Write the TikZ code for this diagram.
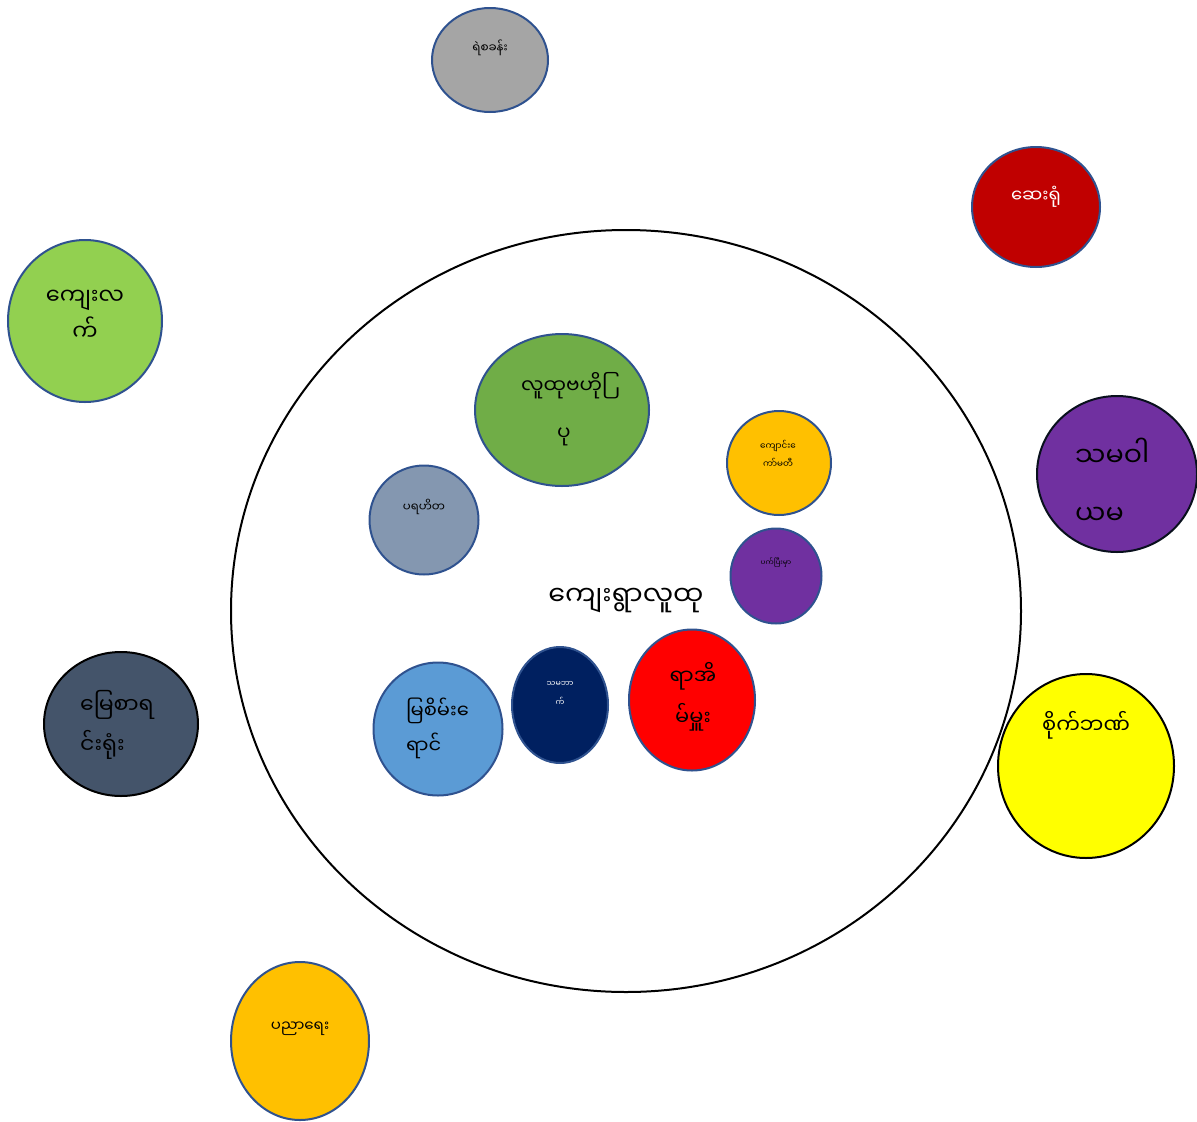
\documentclass[tikz,border=0pt]{standalone}
\usepackage{fontspec}
\newfontfamily\my[Script=Myanmar]{Noto Sans Myanmar UI}
\usetikzlibrary{shapes.geometric}
\definecolor{bord}{HTML}{2F528F}
\definecolor{cgray}{HTML}{A5A5A5}
\definecolor{cdred}{HTML}{C00000}
\definecolor{clgreen}{HTML}{92D050}
\definecolor{cgreen}{HTML}{70AD47}
\definecolor{cgold}{HTML}{FFC000}
\definecolor{cgblue}{HTML}{8497B0}
\definecolor{cpurple}{HTML}{7030A0}
\definecolor{cslate}{HTML}{44546A}
\definecolor{cblue}{HTML}{5B9BD5}
\definecolor{cnavy}{HTML}{002060}
\definecolor{cred}{HTML}{FF0000}
\definecolor{cyellow}{HTML}{FFFF00}
\newcommand{\myee}{{\XeTeXglyph\XeTeXcharglyph"1031\relax}}
\newcommand{\myra}{{\XeTeXglyph\XeTeXcharglyph"103C\relax}}
\tikzset{
  blob/.style={ellipse, draw=bord, line width=2pt, inner sep=0pt},
  fs/.style 2 args={font=\my\fontsize{#1}{#2}\selectfont, align=center, inner sep=0pt},
}
\begin{document}
\begin{tikzpicture}[x=1pt,y=-1pt]
\useasboundingbox (0,0) rectangle (1197,1122);
% big circle
\node[ellipse, draw=black, line width=2pt, minimum width=790, minimum height=762, inner sep=0pt] (big) at (626,611) {};
\node[fs={27}{30}] (title) at (626,601) {ကျေးရွာလူထု};

\node[blob, fill=cgray, minimum width=116, minimum height=104] (police) at (490,60) {};
\node[fs={12}{14}] (police-t) at (490,48) {ရဲစခန်း};

\node[blob, fill=cdred, minimum width=128, minimum height=120] (hosp) at (1036,207) {};
\node[fs={18}{20}, text=white] (hosp-t) at (1036,197) {ဆေးရုံ};

\node[blob, fill=clgreen, minimum width=154, minimum height=162] (rural) at (85,321) {};
\node[fs={22.5}{36}] (rural-t) at (85,315) {ကျေးလ\\က်};

\node[blob, fill=cgreen, minimum width=174, minimum height=152] (comm) at (562,410) {};
\node[fs={20}{47}] (comm-t) at (564,409) {လူထုဗဟို\myra\\ပု};

\node[blob, fill=cgold, minimum width=104, minimum height=104] (school) at (779,463) {};
\node[fs={8.8}{18}] (school-t) at (778,454) {ကျောင်း\myee\\ကာ်မတီ};

\node[blob, fill=cgblue, minimum width=109, minimum height=109] (charity) at (424,520) {};
\node[fs={11.7}{14}] (charity-t) at (424,507) {ပရဟိတ};

\node[blob, fill=cpurple, minimum width=91, minimum height=95] (small) at (776,576) {};
\node[fs={7.3}{9}] (small-t) at (776,563) {ပက်ပြီးမှာ};

\node[blob, fill=cpurple, draw=black!80!bord, minimum width=160, minimum height=156] (coop) at (1117,474) {};
\node[fs={27}{58}, align=left, anchor=west] (coop-t) at (1075,481) {သမဝါ\\ယမ};

\node[blob, fill=cslate, draw=black, minimum width=154, minimum height=144] (land) at (121,724) {};
\node[fs={22}{40}, align=left, anchor=west] (land-t) at (80,725) {မြေစာရ\\င်းရုံး};

\node[blob, fill=cblue, minimum width=129, minimum height=133] (emer) at (438,729) {};
\node[fs={19.5}{35}, align=left, anchor=west] (emer-t) at (406,728) {မြစိမ်း\myee\\ရာင်};

\node[blob, fill=cnavy, minimum width=96, minimum height=116] (navy) at (560,705) {};
\node[fs={7.9}{19}, text=white] (navy-t) at (560,693) {သမဘာ\\က်};

\node[blob, fill=cred, minimum width=126, minimum height=141] (head) at (692,700) {};
\node[fs={21}{41}] (head-t) at (693,697) {ရာအိ\\မ်မှူး};

\node[blob, fill=cyellow, draw=black, minimum width=176, minimum height=184] (bank) at (1086,766) {};
\node[fs={21}{24}] (bank-t) at (1086,725) {စိုက်ဘဏ်};

\node[blob, fill=cgold, minimum width=138, minimum height=158] (edu) at (300,1041) {};
\node[fs={15}{18}] (edu-t) at (300,1029) {ပညာရေး};
\end{tikzpicture}
\end{document}
